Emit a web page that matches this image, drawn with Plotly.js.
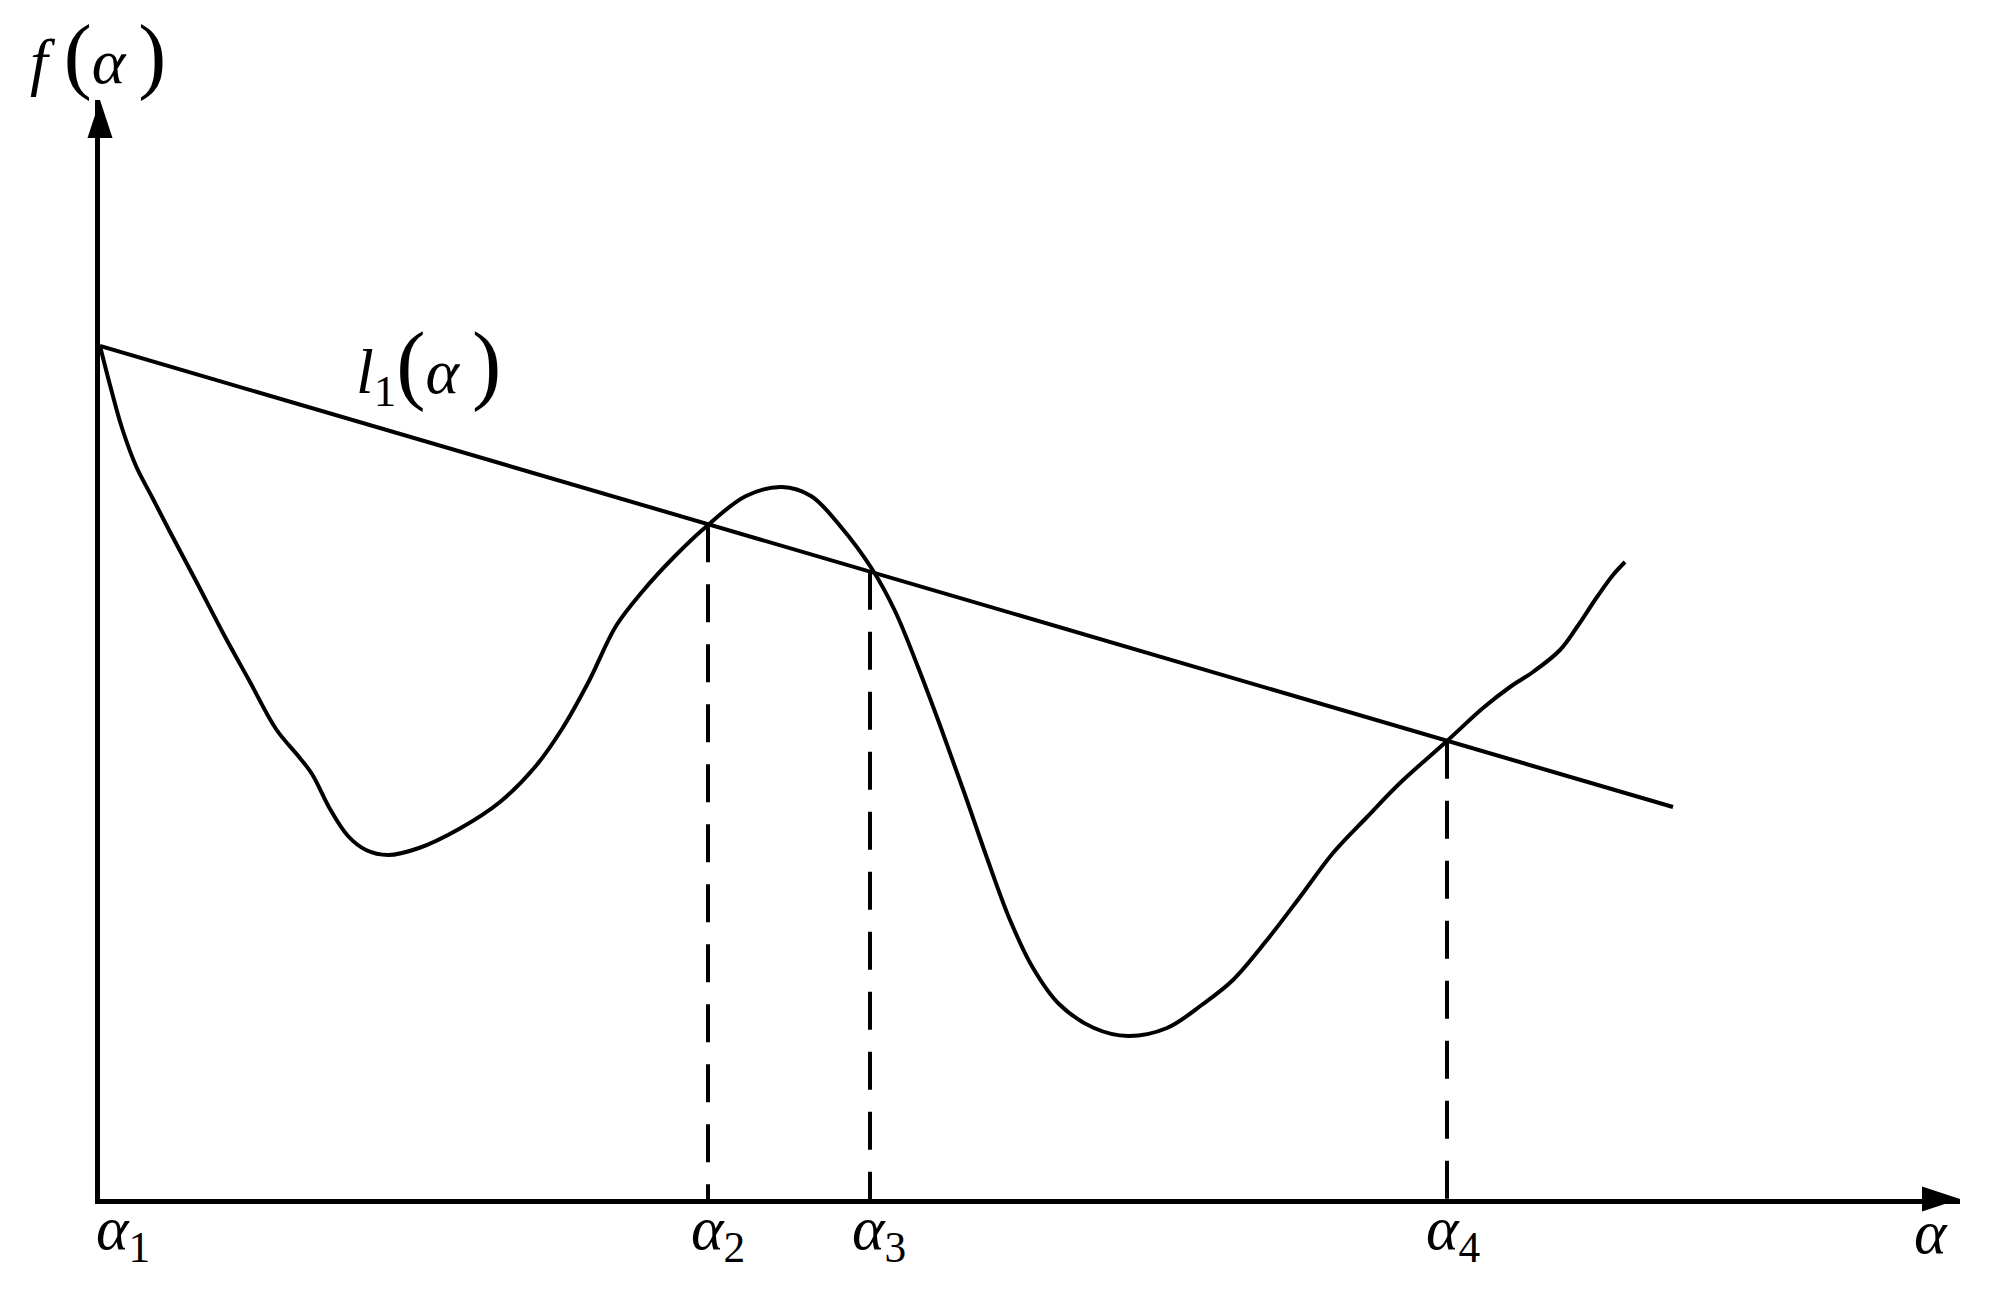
<!DOCTYPE html>
<html>
<head>
<meta charset="utf-8">
<script src="https://cdn.plot.ly/plotly-3.0.1.min.js"></script>
<style>html,body{margin:0;padding:0;background:#fff;}</style>
</head>
<body>
<div id="chart" style="width:1995px;height:1296px;"></div>
<script>
// ---- data ----
const curveX = [0, 0.10, 0.22, 0.36, 0.52, 0.69, 0.96, 1.23, 1.50, 1.76, 1.99, 2.12, 2.30, 2.48, 2.66, 2.88,
  3.19, 3.59, 4.00, 4.35, 4.62, 4.89, 5.16, 5.42, 5.74, 6.08, 6.46, 6.82, 7.11, 7.41, 7.72, 7.95, 8.18,
  8.41, 8.64, 8.87, 9.10, 9.33, 9.59, 9.94, 10.28, 10.67, 11.03, 11.33, 11.67, 12.00, 12.33, 12.67,
  13.00, 13.47, 13.83, 14.10, 14.33, 14.60, 14.77, 14.97, 15.13, 15.25];
const curveY = [8.53, 8.14, 7.71, 7.33, 7.02, 6.69, 6.18, 5.66, 5.17, 4.70, 4.42, 4.25, 3.90, 3.63, 3.49, 3.44,
  3.51, 3.70, 3.97, 4.32, 4.70, 5.18, 5.73, 6.07, 6.42, 6.74, 7.03, 7.12, 7.03, 6.72, 6.30, 5.88, 5.32,
  4.71, 4.07, 3.41, 2.79, 2.31, 1.95, 1.71, 1.63, 1.71, 1.95, 2.19, 2.59, 3.02, 3.46, 3.82,
  4.16, 4.58, 4.91, 5.12, 5.27, 5.49, 5.72, 6.02, 6.24, 6.37];
const lineX = [0, 15.73];
const lineY = [8.53, 3.92];
const tickVals = [0, 6.08, 7.70, 13.47];
const tickLabels = ['<i>α</i><sub>1</sub>', '<i>α</i><sub>2</sub>', '<i>α</i><sub>3</sub>', '<i>α</i><sub>4</sub>'];
const xAxisLabel = '<i>α</i>';
const yAxisLabel = '<i>f</i> <span style="font-size:84px">(</span><i>α</i>\u2009<span style="font-size:84px">)</span>';
const lineLabel = '<i>l</i><sub>1</sub><span style="font-size:88px">(</span><i>α</i>\u2009<span style="font-size:88px">)</span>';

// ---- layout constants ----
const W = 1995, H = 1296;
const M = {l: 100, r: 35, t: 100, b: 97};
const xRange = [0, 18.6], yRange = [0, 10.99];
const plotW = W - M.l - M.r, plotH = H - M.t - M.b;
const FONT = 'Liberation Serif';

function lineAt(x) {
  const t = (x - lineX[0]) / (lineX[1] - lineX[0]);
  return lineY[0] + t * (lineY[1] - lineY[0]);
}
const pX = v => (v - xRange[0]) / (xRange[1] - xRange[0]);
const pY = v => (v - yRange[0]) / (yRange[1] - yRange[0]);

const traces = [];
traces.push({x: curveX, y: curveY, mode: 'lines', line: {color: '#000', width: 4, shape: 'spline', smoothing: 1}, hoverinfo: 'skip'});
traces.push({x: lineX, y: lineY, mode: 'lines', line: {color: '#000', width: 4}, hoverinfo: 'skip'});
tickVals.slice(1).forEach(v => {
  traces.push({x: [v, v], y: [lineAt(v), 0], mode: 'lines', line: {color: '#000', width: 4, dash: '38px,22px'}, hoverinfo: 'skip'});
});

// arrowheads (paper coordinates, pixel-sized)
const ahLen = 38, ahHalf = 12.5;
const kx = 1 / plotW, ky = 1 / plotH;
const shapes = [
  {type: 'path', xref: 'paper', yref: 'paper', fillcolor: '#000', line: {width: 0},
   path: `M ${-ahHalf*kx} ${1-ahLen*ky} L ${ahHalf*kx} ${1-ahLen*ky} L 0 1 Z`},
  {type: 'path', xref: 'paper', yref: 'paper', fillcolor: '#000', line: {width: 0},
   path: `M ${1-ahLen*kx} ${-ahHalf*ky} L ${1-ahLen*kx} ${ahHalf*ky} L 1 0 Z`}
];

const labelShift = [-6, -19, -20, -23];
const annotations = tickVals.map((v, i) => ({
  x: pX(v), y: pY(-0.33), xref: 'paper', yref: 'paper', text: tickLabels[i], showarrow: false,
  xanchor: 'left', yanchor: 'middle', xshift: labelShift[i],
  font: {family: FONT, size: 62, color: '#000'}
}));
annotations.push({x: pX(18.12), y: pY(-0.33), xref: 'paper', yref: 'paper', text: xAxisLabel, showarrow: false,
  xanchor: 'left', yanchor: 'middle', font: {family: FONT, size: 62, color: '#000'}});
annotations.push({x: pX(-0.72), y: pY(11.44), xref: 'paper', yref: 'paper', text: yAxisLabel, showarrow: false,
  xanchor: 'left', yanchor: 'middle', font: {family: FONT, size: 64, color: '#000'}});
annotations.push({x: pX(2.54), y: pY(8.34), xref: 'paper', yref: 'paper', text: lineLabel, showarrow: false,
  xanchor: 'left', yanchor: 'middle', font: {family: FONT, size: 64, color: '#000'}});

const axisCommon = {showgrid: false, zeroline: false, showticklabels: false, ticks: '',
  showline: true, linecolor: '#000', linewidth: 5, fixedrange: true};

const layout = {
  width: W, height: H, margin: {l: M.l, r: M.r, t: M.t, b: M.b, pad: 0},
  paper_bgcolor: '#fff', plot_bgcolor: '#fff', showlegend: false,
  font: {family: FONT, color: '#000'},
  xaxis: Object.assign({range: xRange}, axisCommon),
  yaxis: Object.assign({range: yRange}, axisCommon),
  shapes: shapes, annotations: annotations
};

Plotly.newPlot('chart', traces, layout, {staticPlot: true, displayModeBar: false});
</script>
</body>
</html>
